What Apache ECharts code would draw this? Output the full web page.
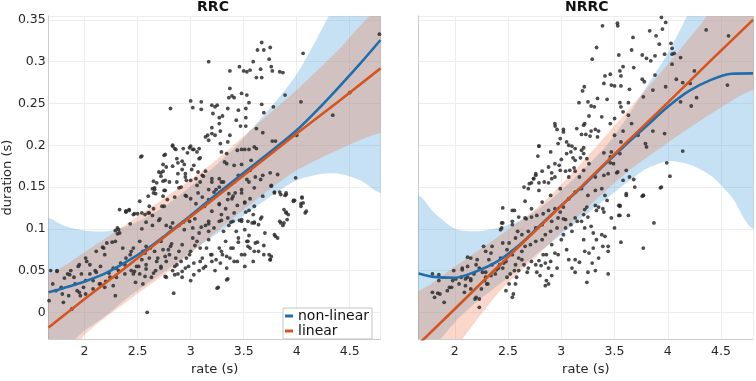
<!DOCTYPE html>
<html><head><meta charset="utf-8">
<script src="https://cdn.jsdelivr.net/npm/echarts@6/dist/echarts.min.js"></script>
<style>html,body{margin:0;padding:0;background:#fff}#c{width:756px;height:381px}</style>
</head><body><div id="c"></div>
<script>
// ---------- data ----------
const panelTitles = ['RRC', 'NRRC'];
const legendNames = ['non-linear', 'linear'];

// RRC fits
const rrcFitX     = [1.66,1.8,2.0,2.2,2.4,2.6,2.8,3.0,3.2,3.4,3.6,3.8,4.0,4.2,4.4,4.6,4.79];
const rrcNonlin   = [0.024,0.029,0.037,0.047,0.061,0.077,0.096,0.116,0.137,0.157,0.177,0.197,0.218,0.243,0.27,0.298,0.326];
const rrcNonlinLo = [-0.075,-0.046,-0.022,-0.004,0.017,0.035,0.053,0.072,0.09,0.107,0.125,0.143,0.158,0.165,0.166,0.158,0.143];
const rrcNonlinHi = [0.113,0.104,0.098,0.097,0.103,0.115,0.131,0.151,0.172,0.195,0.223,0.252,0.285,0.33,0.38,0.44,0.5];
const rrcLinX     = [1.66,2.0,2.4,2.8,3.2,3.6,4.0,4.4,4.79];
const rrcLin      = [-0.018,0.016,0.055,0.095,0.134,0.174,0.214,0.253,0.292];
const rrcLinLo    = [-0.085,-0.027,0.013,0.05,0.092,0.133,0.17,0.195,0.2146];
const rrcLinHi    = [0.046,0.072,0.106,0.141,0.178,0.222,0.266,0.315,0.365];

// NRRC fits
const nrrcFitX     = [1.66,1.8,2.0,2.2,2.4,2.6,2.8,3.0,3.2,3.4,3.6,3.8,4.0,4.2,4.4,4.6,4.8];
const nrrcNonlin   = [0.0465,0.0425,0.0415,0.049,0.061,0.08,0.104,0.128,0.151,0.176,0.2,0.223,0.246,0.265,0.278,0.2855,0.286];
const nrrcNonlinLo = [-0.07,-0.043,-0.012,0.012,0.032,0.052,0.073,0.093,0.114,0.134,0.154,0.172,0.181,0.177,0.164,0.138,0.1];
const nrrcNonlinHi = [0.14,0.12,0.1,0.097,0.101,0.109,0.125,0.146,0.17,0.196,0.23,0.27,0.31,0.36,0.42,0.48,0.55];
const nrrcLinX     = [1.66,2.0,2.4,2.8,3.2,3.6,4.0,4.4,4.8];
const nrrcLin      = [-0.038,0.004,0.054,0.103,0.152,0.202,0.251,0.301,0.35];
const nrrcLinLo    = [-0.1,-0.044,0.022,0.071,0.12,0.166,0.203,0.237,0.266];
const nrrcLinHi    = [0.026,0.055,0.09,0.128,0.18,0.238,0.297,0.36,0.435];

// scatter points [rate, duration]
const rrcPoints = [
[2.54,0.187],[2.81,0.244],[3.17,0.300],[3.0,0.253],[3.1,0.252],[3.02,0.245],[3.1,0.243],[3.2,0.248],[3.25,0.248],[3.37,0.289],[3.46,0.294],[3.5,0.289],[3.53,0.288],[3.56,0.29],[3.59,0.3],[3.67,0.323],[3.63,0.314],[3.69,0.314],[3.75,0.317],[3.66,0.291],[3.67,0.281],[3.62,0.281],[3.74,0.303],[3.76,0.294],[3.77,0.289],[3.84,0.288],[3.87,0.287],[3.89,0.26],[4.06,0.31],[4.04,0.252],[4.0,0.212],[3.99,0.161],[4.34,0.236],[4.5,0.263],[4.78,0.333],
[2.75,0.188],[2.72,0.167],[2.72,0.163],[2.74,0.157],[2.76,0.158],[2.83,0.2],[2.85,0.196],[2.76,0.189],[2.87,0.184],[2.88,0.166],[2.92,0.171],[2.95,0.162],[2.93,0.196],[2.97,0.191],[3.0,0.199],[3.02,0.195],[3.06,0.192],[3.08,0.196],[3.08,0.184],[3.03,0.176],[3.07,0.168],[3.09,0.185],[3.12,0.163],[3.14,0.21],[3.16,0.212],[3.17,0.206],[3.2,0.221],[3.2,0.214],[3.23,0.212],[3.21,0.238],[3.23,0.246],[3.28,0.217],[3.27,0.226],[3.27,0.233],[3.3,0.235],[3.28,0.202],[3.29,0.192],[3.32,0.18],[3.34,0.19],[3.34,0.178],[3.35,0.204],[3.37,0.212],[3.35,0.244],[3.36,0.257],[3.39,0.259],[3.41,0.257],[3.37,0.268],[3.48,0.262],[3.53,0.26],[3.55,0.251],[3.52,0.244],[3.45,0.242],[3.52,0.233],[3.43,0.23],[3.47,0.223],[3.52,0.223],[3.62,0.22],[3.67,0.249],[3.69,0.239],[3.78,0.246],[3.77,0.205],[3.8,0.205],[3.68,0.215],[3.6,0.198],[3.55,0.195],[3.51,0.195],[3.48,0.195],[3.44,0.194],[3.41,0.176],[3.48,0.177],[3.57,0.182],[3.62,0.196],[3.56,0.17],[3.66,0.159],[3.75,0.167],[3.82,0.165],[3.27,0.16],[3.2,0.156],[3.41,0.156],[3.53,0.159],[2.87,0.156],[2.96,0.158],[3.0,0.158],[3.29,0.156],[2.7,0.168],[2.74,0.177],[2.77,0.174],[2.65,0.157],[2.68,0.155],[2.94,0.177],
[3.6,0.149],[3.76,0.151],[3.85,0.141],[3.9,0.141],[3.17,0.147],[3.24,0.147],[3.4,0.139],[3.48,0.143],[3.51,0.131],[3.68,0.139],[3.97,0.133],[4.05,0.137],[4.04,0.127],[4.08,0.119],[3.88,0.123],[3.9,0.119],[3.13,0.127],[3.2,0.121],[3.29,0.117],[3.35,0.113],[3.41,0.119],[3.48,0.111],[3.54,0.109],[3.6,0.107],[3.85,0.107],[3.17,0.109],
[2.53,0.186],[2.66,0.149],[2.65,0.143],[2.39,0.121],[2.46,0.117],[2.57,0.117],[2.42,0.123],[2.6,0.139],[2.74,0.139],[2.61,0.127],[2.75,0.127],
[2.64,0.148],[2.67,0.142],[2.75,0.146],[2.8,0.156],[2.85,0.138],[2.91,0.15],[2.95,0.14],[3.0,0.136],[3.05,0.13],[3.11,0.138],[3.17,0.132],[3.22,0.144],[3.27,0.13],[3.33,0.124],[3.39,0.136],[3.44,0.128],[3.51,0.132],[3.56,0.136],[3.55,0.122],[3.59,0.117],[3.67,0.114],[3.79,0.144],[3.89,0.14],[3.98,0.134],[4.04,0.13],[3.9,0.12],[3.92,0.117],[3.84,0.109],[3.87,0.104],
[2.39,0.12],[2.42,0.122],[2.5,0.118],[2.6,0.119],[2.58,0.108],[2.64,0.116],[2.71,0.112],[2.77,0.104],[2.83,0.107],[2.89,0.104],[2.94,0.099],[2.99,0.109],[3.02,0.101],[3.08,0.095],[3.14,0.104],[3.17,0.097],[3.22,0.101],[3.27,0.109],[3.31,0.097],[3.36,0.104],[3.4,0.109],[3.48,0.109],[3.51,0.099],[3.58,0.107],[3.64,0.105],[3.7,0.095],[2.32,0.099],[2.33,0.095],[2.31,0.101],
[2.83,0.175],[2.88,0.179],[2.92,0.181],[2.95,0.166],[3.01,0.171],[3.05,0.16],[3.06,0.152],[3.09,0.156],[3.11,0.164],[3.14,0.169],[3.2,0.16],[3.27,0.15],[3.31,0.156],[3.36,0.142],[3.45,0.164],[3.55,0.156],[3.61,0.162],[3.68,0.164],[3.76,0.152],[3.84,0.144],[2.74,0.169],[2.83,0.199],[2.86,0.195],[2.99,0.197],[3.03,0.195],
[2.18,0.077],[2.21,0.083],[2.29,0.085],[2.36,0.077],[2.43,0.069],[2.46,0.077],[2.52,0.085],[2.55,0.073],[2.58,0.079],[2.61,0.065],[2.66,0.073],[2.69,0.065],[2.72,0.085],[2.74,0.075],[2.77,0.061],[2.8,0.069],[2.81,0.079],[2.85,0.055],[2.86,0.065],[2.89,0.073],[2.91,0.061],[2.92,0.081],[2.95,0.053],[2.99,0.069],[3.02,0.089],[3.03,0.059],[3.06,0.085],[3.08,0.05],[3.09,0.077],[3.11,0.065],[3.14,0.055],[3.17,0.087],[3.19,0.069],[3.2,0.061],[3.23,0.05],[3.27,0.077],[3.28,0.059],[3.3,0.069],[3.33,0.085],[3.34,0.053],[3.35,0.04],[3.37,0.065],[3.4,0.077],[3.44,0.061],[3.45,0.089],[3.48,0.069],[3.51,0.055],[3.53,0.085],[3.56,0.077],[3.59,0.061],[3.61,0.083],[3.64,0.073],[3.69,0.069],[3.75,0.063],[3.76,0.067],[3.79,0.093],[3.82,0.089],
[2.02,0.061],[2.05,0.057],[2.1,0.05],[2.15,0.055],[2.19,0.069],[2.27,0.053],[2.32,0.05],[2.38,0.057],[2.44,0.05],[2.49,0.055],[2.52,0.046],[2.58,0.052],[2.63,0.042],[2.67,0.05],[2.72,0.055],[2.77,0.042],[2.83,0.05],[2.88,0.046],[2.92,0.042],[3.0,0.038],[2.84,0.023],[3.26,0.03],[2.55,0.034],[2.59,0.0],
[1.68,0.05],[1.74,0.05],[1.84,0.046],[1.87,0.05],[1.9,0.042],[1.94,0.055],[1.97,0.046],[2.01,0.038],[2.05,0.046],[2.11,0.048],[2.15,0.034],[1.665,0.014],[1.73,0.026],[1.79,0.022],[1.85,0.02],[1.93,0.026],[1.96,0.02],[1.99,0.03],[2.08,0.038],[2.19,0.03],[2.27,0.032],[2.29,0.02],[1.8,0.012],[1.88,0.004],[2.24,0.042],[2.3,0.042],[2.38,0.046],[2.46,0.046],[2.48,0.036],[2.58,0.057],
[3.52,0.12],[3.66,0.112],[3.74,0.069],[3.75,0.063],[3.8,0.091],[3.88,0.107],[3.91,0.111],[3.97,0.134],[4.05,0.138],[4.06,0.131],[4.09,0.121],[3.9,0.143],[3.79,0.143],[3.6,0.127],[3.6,0.108],[3.54,0.085],[3.54,0.079],[3.43,0.097],[3.34,0.039],[3.25,0.029],
[2.52,0.133],[2.33,0.123],[2.39,0.121],[2.47,0.118],[2.54,0.119],[2.61,0.119],[2.65,0.124],[2.73,0.127],[2.78,0.135],[2.66,0.147],[2.76,0.146],[2.89,0.149],[2.96,0.139],[3.07,0.143],[3.17,0.135],[3.27,0.129],[3.35,0.135],[3.42,0.143],[3.48,0.147],[2.29,0.098],[2.31,0.094],[2.43,0.106],[2.54,0.1],[2.64,0.104],[2.7,0.11],[2.81,0.102],[2.93,0.108],[3.04,0.112],[3.1,0.102],[3.17,0.106],[3.29,0.11],[3.38,0.108],[3.46,0.11],[2.26,0.084],[2.17,0.078],[2.11,0.073],[2.01,0.065],[1.95,0.057],[1.86,0.045],[1.81,0.041],[1.74,0.049],[1.7,0.034],[1.78,0.03],[1.91,0.034],[1.95,0.024],[2.01,0.022],[2.08,0.028],[2.14,0.034],[2.2,0.037],[2.23,0.047],[2.3,0.053],[2.34,0.059],[2.39,0.065],[2.44,0.073],[2.47,0.049],[2.51,0.055],[2.54,0.063],[2.57,0.071],[2.62,0.077],[2.68,0.061],[2.72,0.053],[2.76,0.067],[2.79,0.075],[2.82,0.082],[2.87,0.057],[2.92,0.049],[2.96,0.065],[3.0,0.073],[3.04,0.08],[3.09,0.061],[3.12,0.053],[3.15,0.077],[3.2,0.069],[3.24,0.063],[3.29,0.073],[3.34,0.067],[3.38,0.077],[3.41,0.061],[3.45,0.084],[3.51,0.069],[3.55,0.092],[3.6,0.073],[3.63,0.084],[3.69,0.08],[3.03,0.045],[2.98,0.055],[2.85,0.045],[2.76,0.043],[2.65,0.047],[2.57,0.043]
];

const nrrcPoints = [
[3.387,0.343],[3.527,0.346],[3.53,0.343],[3.331,0.317],[3.29,0.303],[3.673,0.329],[3.66,0.314],[3.54,0.308],[3.58,0.294],[3.68,0.293],[3.55,0.289],[3.56,0.283],[3.46,0.285],[3.41,0.283],[3.5,0.271],[3.56,0.271],[3.4,0.274],[3.47,0.272],[3.64,0.267],[3.216,0.27],[3.2,0.265],[3.34,0.256],[3.43,0.255],[3.25,0.252],[3.28,0.247],[3.31,0.246],[3.166,0.251],[3.26,0.235],[3.22,0.226],[3.21,0.224],[3.38,0.234],[3.46,0.226],[3.5,0.232],[3.56,0.246],[3.55,0.251],[3.63,0.251],[3.58,0.24],[3.63,0.236],[2.942,0.223],[2.96,0.219],[3.02,0.216],[2.99,0.208],[3.145,0.22],[3.19,0.213],[3.23,0.213],[3.28,0.217],[3.32,0.219],[3.34,0.21],[2.97,0.202],[3.05,0.204],[3.07,0.2],[3.1,0.199],[3.09,0.192],[3.05,0.19],[3.13,0.196],[3.11,0.185],[3.13,0.182],[3.19,0.194],[3.21,0.19],[3.24,0.184],[3.26,0.178],[3.21,0.17],[3.0,0.183],[2.98,0.176],[2.94,0.178],[2.9,0.192],[2.79,0.199],[2.78,0.187],[2.88,0.174],[2.82,0.169],[2.76,0.164],[2.74,0.16],[2.91,0.167],[2.94,0.162],[2.99,0.17],[3.04,0.169],[3.08,0.17],[3.13,0.169],[3.17,0.162],[3.5,0.212],[3.56,0.204],[3.47,0.192],[3.46,0.186],[3.49,0.178],[3.55,0.19],[3.58,0.217],[3.66,0.226],[3.72,0.212],[3.68,0.159],[3.61,0.17],[3.53,0.168],[3.44,0.166],[3.4,0.164],[3.32,0.162],[2.88,0.155],[2.79,0.155],[2.72,0.155],
[3.94,0.353],[3.98,0.347],[3.83,0.337],[3.89,0.331],[3.95,0.339],[4.36,0.338],[4.57,0.331],[3.92,0.321],[4.03,0.322],[4.04,0.316],[3.76,0.308],[3.8,0.304],[3.84,0.301],[3.88,0.307],[3.97,0.309],[4.04,0.309],[4.06,0.31],[4.12,0.305],[4.04,0.297],[4.25,0.289],[3.88,0.284],[3.76,0.279],[3.78,0.276],[4.08,0.279],[4.14,0.275],[4.21,0.274],[3.98,0.27],[3.86,0.266],[3.77,0.258],[4.12,0.252],[4.27,0.257],[4.56,0.272],[4.22,0.247],[3.86,0.217],[3.97,0.214],[3.79,0.202],[3.8,0.198],[4.14,0.193],[3.99,0.179],[4.02,0.163],[3.93,0.149],[3.76,0.139],
[2.45,0.125],[2.54,0.122],[2.66,0.133],[2.69,0.148],[2.72,0.124],[2.82,0.132],[2.44,0.107],[2.44,0.101],[2.54,0.109],[2.6,0.114],[2.66,0.113],[2.72,0.114],[2.77,0.116],[2.83,0.118],[2.88,0.122],[2.94,0.124],[3.02,0.126],[3.07,0.136],[3.13,0.144],[3.19,0.148],[3.25,0.14],[3.32,0.146],[3.38,0.148],[3.41,0.14],[3.43,0.134],[3.39,0.124],[3.32,0.128],[3.33,0.122],[3.22,0.123],[3.21,0.117],[3.13,0.113],[3.19,0.109],[3.25,0.114],[3.22,0.101],[3.28,0.103],[3.3,0.095],[3.38,0.093],[3.41,0.091],[3.44,0.079],[3.54,0.128],[3.55,0.116],[3.61,0.142],[3.77,0.14],[3.87,0.107],[3.94,0.15],[3.56,0.084],[3.77,0.077],[3.44,0.046],[3.24,0.036],[3.33,0.087],[3.3,0.077],[3.26,0.071],[3.21,0.087],[3.22,0.073],[3.17,0.06],[3.13,0.063],[3.1,0.053],[3.13,0.048],[3.07,0.063],[3.05,0.075],[3.0,0.087],[2.97,0.069],[2.94,0.071],[2.91,0.081],[2.9,0.061],[2.88,0.053],[2.86,0.069],[2.85,0.059],[2.83,0.069],[2.81,0.056],[2.79,0.062],[2.77,0.048],[2.8,0.044],[2.86,0.038],[2.85,0.032],[2.88,0.034],[2.91,0.044],[2.96,0.053],[2.76,0.057],[2.72,0.061],[2.69,0.053],[2.68,0.048],[2.65,0.057],[2.63,0.063],[2.6,0.05],[2.58,0.042],[2.57,0.034],[2.54,0.018],[2.55,0.022],[2.48,0.026],[2.51,0.034],[2.52,0.046],[2.57,0.057],[2.6,0.065],[2.63,0.073],[2.66,0.079],[2.71,0.081],[2.76,0.085],[2.82,0.087],[2.85,0.093],[2.9,0.097],[2.96,0.101],[3.02,0.093],[3.04,0.101],[3.1,0.097],[3.04,0.111],[2.97,0.113],[2.91,0.109],[2.82,0.105],[2.76,0.101],[2.69,0.097],[2.63,0.093],[2.57,0.089],[2.51,0.083],[2.49,0.075],[2.54,0.069],[2.46,0.059],[2.43,0.065],[2.41,0.053],[2.38,0.046],[2.35,0.057],[2.32,0.063],[2.29,0.073],[2.27,0.079],[2.34,0.071],[2.35,0.079],[2.29,0.042],[2.26,0.048],[2.23,0.053],[2.2,0.057],[2.18,0.046],[2.15,0.04],[2.12,0.066],[2.1,0.04],[2.07,0.053],[2.06,0.042],[2.04,0.034],[2.01,0.04],[1.99,0.05],[1.98,0.038],[1.95,0.03],[1.93,0.026],[1.9,0.012],[1.86,0.022],[1.81,0.018],[1.79,0.024],[1.85,0.038],[2.09,0.024],[2.19,0.016],[2.23,0.016],[2.15,0.028],[2.1,0.032],[2.3,0.034],[2.28,0.038],[3.25,0.048],[3.29,0.059],[3.35,0.065],[3.39,0.079],[3.32,0.05],[3.44,0.073],[3.5,0.101],[3.47,0.113],[3.55,0.127],[3.63,0.116],
[1.97,0.03],[2.07,0.051],[2.12,0.055],[2.15,0.065],[2.21,0.063],[2.12,0.042],[2.15,0.038],[2.2,0.018],[2.23,0.006],[2.25,0.028],[2.29,0.048],[2.31,0.034],[2.34,0.044],[2.39,0.051],[2.42,0.057],[2.45,0.053],[2.48,0.061],[2.49,0.042],[2.54,0.073],[2.56,0.05],[1.79,0.046],[1.85,0.045],[1.84,0.023],
[2.94,0.226],[3.02,0.219],[2.79,0.199],[2.76,0.166],[2.74,0.16],[2.65,0.15],[2.7,0.154],[2.56,0.122],[2.67,0.112],[2.45,0.107],[2.54,0.105],[2.59,0.097],[2.45,0.083],[2.43,0.099],[2.79,0.146],[2.84,0.156],[2.91,0.16],[2.9,0.14],[2.99,0.148],[3.07,0.162],[3.12,0.173],[3.18,0.185],[3.21,0.197],[3.27,0.211],[3.35,0.217],[3.4,0.191],[3.46,0.179],[3.52,0.167],[3.58,0.158],[3.64,0.162],[3.69,0.15],[3.77,0.14],[3.61,0.14],[3.55,0.128],[3.54,0.116],[3.4,0.12],[3.35,0.126],[3.24,0.126],[3.15,0.109],[3.09,0.105],[3.02,0.112],[2.99,0.12]
];

// axis ranges
const xRanges = [[1.662, 4.79], [1.661, 4.80]];
const yRange = [-0.032, 0.3547];
const xStep = 0.5, yStep = 0.05;

// ---------- styling / layout ----------
const FONT = 'DejaVu Sans';
const TXT = '#262626';
const BLUE = '#1f6eac', ORANGE = '#d6541d';
const BLUE_BAND = 'rgba(90,170,220,0.35)';
const ORANGE_BAND = 'rgba(240,124,80,0.30)';
const grids = [
  {left: 45.5, top: 16, width: 335, height: 330},
  {left: 418.7, top: 16, width: 336, height: 330}
];
const panels = [
  {fitX: rrcFitX, nl: rrcNonlin, nlLo: rrcNonlinLo, nlHi: rrcNonlinHi, linX: rrcLinX, lin: rrcLin, linLo: rrcLinLo, linHi: rrcLinHi, pts: rrcPoints},
  {fitX: nrrcFitX, nl: nrrcNonlin, nlLo: nrrcNonlinLo, nlHi: nrrcNonlinHi, linX: nrrcLinX, lin: nrrcLin, linLo: nrrcLinLo, linHi: nrrcLinHi, pts: nrrcPoints}
];

function stepFormatter(step) {
  return function (v) {
    const k = v / step;
    return Math.abs(k - Math.round(k)) < 1e-6 ? String(+v.toFixed(3)) : '';
  };
}

// confidence band drawn as a polygon through the axis scales
function bandSeries(i, xs, lo, hi, color, z) {
  return {
    type: 'custom', xAxisIndex: i, yAxisIndex: i, clip: true, silent: true, z: z,
    animation: false,
    data: [[xs[0], lo[0]]],
    renderItem: function (params, api) {
      const up = xs.map((x, k) => api.coord([x, hi[k]]));
      const dn = xs.map((x, k) => api.coord([x, lo[k]])).reverse();
      const ext = 40;
      const nU = up.length, nD = dn.length;
      const pts = [[up[0][0] - ext, up[0][1]]].concat(up,
        [[up[nU - 1][0] + ext, up[nU - 1][1]], [dn[0][0] + ext, dn[0][1]]], dn,
        [[dn[nD - 1][0] - ext, dn[nD - 1][1]]]);
      return {type: 'polygon', shape: {points: pts, smooth: 0.25}, style: {fill: color}, silent: true};
    }
  };
}

const series = [];
panels.forEach((p, i) => {
  series.push(bandSeries(i, p.fitX, p.nlLo, p.nlHi, BLUE_BAND, 1));
  series.push(bandSeries(i, p.linX, p.linLo, p.linHi, ORANGE_BAND, 2));
  series.push({
    type: 'scatter', xAxisIndex: i, yAxisIndex: i, data: p.pts, symbolSize: 3.8,
    itemStyle: {color: '#2e2e2e', opacity: 0.85}, silent: true, z: 3, animation: false
  });
  series.push({
    name: legendNames[0], type: 'line', xAxisIndex: i, yAxisIndex: i,
    data: p.fitX.map((x, k) => [x, p.nl[k]]), smooth: 0.3, symbol: 'none',
    lineStyle: {color: BLUE, width: 2.6}, itemStyle: {color: BLUE}, z: 4, animation: false, silent: true
  });
  series.push({
    name: legendNames[1], type: 'line', xAxisIndex: i, yAxisIndex: i,
    data: p.linX.map((x, k) => [x, p.lin[k]]), symbol: 'none',
    lineStyle: {color: ORANGE, width: 2.6}, itemStyle: {color: ORANGE}, z: 5, animation: false, silent: true
  });
});

const xAxes = [0, 1].map(i => ({
  type: 'value', gridIndex: i, min: xRanges[i][0], max: xRanges[i][1],
  minInterval: xStep, maxInterval: xStep,
  axisLine: {show: true, onZero: false, lineStyle: {color: '#cccccc', width: 1}},
  axisTick: {show: false},
  axisLabel: {color: TXT, fontSize: 12.5, fontFamily: FONT, margin: 6, formatter: stepFormatter(xStep)},
  splitLine: {show: true, lineStyle: {color: '#ededed', width: 1}},
  name: 'rate (s)', nameLocation: 'middle', nameGap: 19,
  nameTextStyle: {color: TXT, fontSize: 13, fontFamily: FONT}
}));
const yAxes = [0, 1].map(i => ({
  type: 'value', gridIndex: i, min: yRange[0], max: yRange[1],
  minInterval: yStep, maxInterval: yStep,
  axisLine: {show: true, onZero: false, lineStyle: {color: '#cccccc', width: 1}},
  axisTick: {show: false},
  axisLabel: {show: i === 0, color: TXT, fontSize: 12.5, fontFamily: FONT, margin: 3, formatter: stepFormatter(yStep)},
  splitLine: {show: true, lineStyle: {color: '#ededed', width: 1}},
  name: i === 0 ? 'duration (s)' : '', nameLocation: 'middle', nameGap: 29,
  nameTextStyle: {color: TXT, fontSize: 13, fontFamily: FONT}
}));

const chart = echarts.init(document.getElementById('c'), null, {renderer: 'canvas', width: 756, height: 381});
chart.setOption({
  animation: false,
  backgroundColor: '#ffffff',
  title: panelTitles.map((t, i) => ({
    text: t, left: grids[i].left + grids[i].width / 2, top: 0, textAlign: 'center', padding: 0,
    textStyle: {color: '#111', fontSize: 14, fontWeight: 'bold', fontFamily: FONT}
  })),
  legend: {
    data: legendNames, orient: 'vertical', left: 283, top: 308, selectedMode: false,
    backgroundColor: '#ffffff', borderColor: '#c4c4c4', borderWidth: 1, borderRadius: 0,
    padding: [1, 3, 1, 2], itemGap: 1, itemWidth: 8, itemHeight: 3, icon: 'rect',
    textStyle: {color: '#111', fontSize: 14, fontFamily: FONT}
  },
  grid: grids,
  xAxis: xAxes,
  yAxis: yAxes,
  series: series
});
</script>
</body></html>
